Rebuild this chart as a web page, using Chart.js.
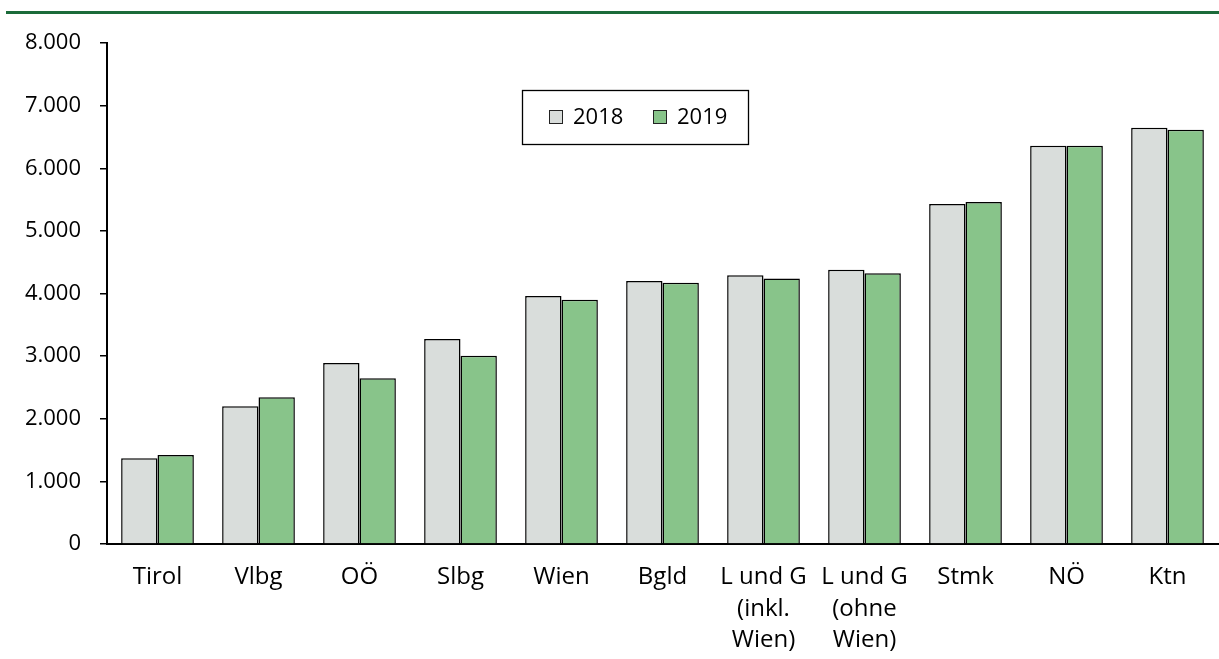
<!DOCTYPE html>
<html>
<head>
<meta charset="utf-8">
<script src="https://cdn.jsdelivr.net/npm/chart.js@4/dist/chart.umd.min.js"></script>
<style>
html,body{margin:0;padding:0;background:#fff;}
#wrap{width:1219px;height:659px;position:relative;}
</style>
</head>
<body>
<div id="wrap"><canvas id="c" width="1219" height="659"></canvas></div>
<script>
const categories = ["Tirol","Vlbg","OÖ","Slbg","Wien","Bgld",["L und G","(inkl.","Wien)"],["L und G","(ohne","Wien)"],"Stmk","NÖ","Ktn"];
const values2018 = [1370, 2200, 2890, 3275, 3960, 4200, 4290, 4380, 5430, 6360, 6645];
const values2019 = [1420, 2345, 2645, 3005, 3900, 4170, 4240, 4325, 5460, 6360, 6615];
const seriesLabels = ["2018","2019"];
const yTicksMax = 8000;
const yStep = 1000;

const FONT = "'Open Sans', 'Liberation Sans', sans-serif";

const decor = {
  id: 'decor',
  beforeDraw(chart){
    const ctx = chart.ctx;
    ctx.save();
    ctx.fillStyle = '#fff';
    ctx.fillRect(0,0,chart.width,chart.height);
    ctx.fillStyle = '#1b6b3a';
    ctx.fillRect(6,11,chart.width-6,3);
    ctx.restore();
  },
  afterDraw(chart){
    const ctx = chart.ctx;
    ctx.save();
    const bx = 522.5, by = 90.5, bw = 226, bh = 54;
    ctx.fillStyle = '#fff';
    ctx.fillRect(bx,by,bw,bh);
    ctx.strokeStyle = '#000';
    ctx.lineWidth = 1.3;
    ctx.strokeRect(bx,by,bw,bh);
    ctx.font = "22px " + FONT;
    ctx.textBaseline = 'middle';
    const items = chart.data.datasets;
    const xs = [549, 653];
    items.forEach((ds,i)=>{
      const x = xs[i], y = 117;
      ctx.fillStyle = ds.backgroundColor;
      ctx.fillRect(x, y-7, 14, 14);
      ctx.strokeStyle = '#222';
      ctx.lineWidth = 1;
      ctx.strokeRect(x+0.5, y-6.5, 13, 13);
      ctx.fillStyle = '#000';
      ctx.textAlign = 'left';
      ctx.fillText(ds.label, x+24, y+1);
    });
    ctx.restore();
  }
};

new Chart(document.getElementById('c'), {
  type: 'bar',
  data: {
    labels: categories,
    datasets: [
      {label: seriesLabels[0], data: values2018, backgroundColor: '#D9DDDB', borderColor: '#000', borderWidth: 1.5},
      {label: seriesLabels[1], data: values2019, backgroundColor: '#88C48A', borderColor: '#000', borderWidth: 1.5}
    ]
  },
  options: {
    responsive: false,
    animation: false,
    events: [],
    categoryPercentage: 0.72,
    barPercentage: 1.0,
    layout: {padding: {top: 43, right: 1, left: 0, bottom: 0}},
    plugins: {legend: {display: false}, tooltip: {enabled: false}},
    scales: {
      x: {
        grid: {display: false},
        border: {display: true, color: '#000', width: 2},
        ticks: {color: '#000', font: {family: FONT, size: 24, lineHeight: 1.3}, padding: 10, maxRotation: 0, autoSkip: false},
        afterFit(s){ s.height = 115; }
      },
      y: {
        min: 0, max: yTicksMax,
        grid: {display: true, drawOnChartArea: false, drawTicks: true, tickLength: 7, color: '#000', lineWidth: 1.5},
        border: {display: true, color: '#000', width: 2},
        ticks: {stepSize: yStep, color: '#000', font: {family: FONT, size: 22}, padding: 19,
          callback: v => v.toLocaleString('de-DE')},
        afterFit(s){ s.width = 107; }
      }
    }
  },
  plugins: [decor]
});
</script>
</body>
</html>
